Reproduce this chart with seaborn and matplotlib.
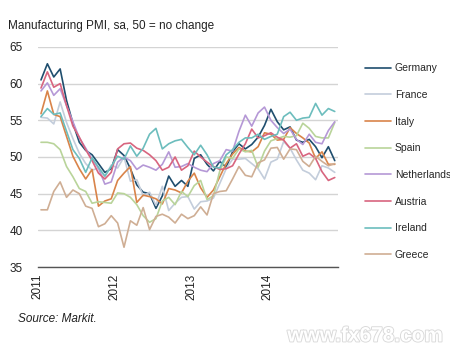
import numpy as np
import pandas as pd
import matplotlib
matplotlib.use("Agg")
import matplotlib.pyplot as plt
import matplotlib.patheffects as pe
import seaborn as sns

# Monthly manufacturing PMI, Jan 2011 - Nov 2014
countries = ["Germany", "France", "Italy", "Spain", "Netherlands", "Austria", "Ireland", "Greece"]

germany = [60.5, 62.7, 60.9, 62.0, 57.7, 54.6, 52.0, 50.9, 50.3, 49.1, 47.9, 48.4,
           51.0, 50.2, 48.4, 46.2, 45.2, 45.0, 43.0, 44.7, 47.4, 46.0, 46.8, 46.0,
           49.8, 50.3, 49.0, 48.1, 49.4, 48.6, 50.7, 51.8, 51.1, 51.7, 52.7, 54.3,
           56.5, 54.8, 53.7, 54.1, 52.3, 52.0, 52.4, 51.4, 49.9, 51.4, 49.5]
france = [55.4, 55.3, 54.5, 57.5, 54.7, 52.5, 50.5, 49.1, 48.2, 48.5, 47.3, 48.9,
          48.5, 50.0, 46.7, 46.9, 44.7, 45.2, 43.4, 46.0, 42.7, 43.7, 44.5, 44.6,
          42.9, 43.9, 44.0, 44.4, 46.4, 48.4, 49.7, 49.7, 49.8, 49.1, 48.4, 47.0,
          49.3, 49.7, 52.1, 51.2, 49.6, 48.2, 47.8, 46.9, 48.8, 48.5, 47.9]
italy = [55.9, 59.0, 55.8, 55.5, 52.8, 50.1, 48.4, 47.0, 48.3, 43.3, 44.0, 44.3,
         46.8, 47.8, 48.7, 43.8, 44.8, 44.6, 44.3, 43.6, 45.7, 45.5, 45.1, 46.7,
         47.8, 45.8, 44.5, 45.5, 47.3, 49.1, 50.4, 51.3, 50.8, 50.7, 51.4, 53.3,
         53.1, 52.3, 52.4, 54.0, 53.2, 52.6, 51.9, 49.8, 50.7, 49.0, 49.0]
spain = [52.0, 52.0, 51.8, 51.0, 48.7, 47.3, 45.7, 45.3, 43.7, 43.9, 43.8, 43.7,
         45.1, 45.0, 44.5, 43.5, 42.0, 41.1, 41.6, 44.0, 44.5, 43.5, 45.3, 44.6,
         46.1, 46.8, 44.2, 44.7, 48.1, 50.0, 49.8, 51.1, 50.7, 50.9, 48.6, 50.8,
         52.2, 52.5, 52.8, 52.7, 52.9, 54.6, 53.9, 52.8, 52.6, 52.6, 54.7]
netherlands = [59.0, 60.1, 58.4, 59.3, 57.0, 54.8, 52.6, 51.2, 49.7, 48.5, 46.3, 46.6,
               49.3, 50.0, 49.5, 48.3, 48.9, 48.6, 48.2, 49.0, 50.7, 48.6, 48.7, 49.1,
               48.6, 48.2, 48.0, 49.1, 49.5, 51.0, 50.8, 53.5, 55.7, 54.2, 56.0, 56.8,
               55.0, 54.0, 53.2, 53.8, 52.4, 51.7, 53.1, 52.0, 51.8, 53.6, 54.8]
austria = [59.4, 61.6, 59.5, 60.0, 57.0, 54.2, 52.7, 51.0, 49.5, 47.8, 47.0, 47.9,
           51.1, 51.8, 51.9, 51.2, 50.9, 50.3, 49.5, 48.2, 48.6, 50.0, 48.2, 48.8,
           50.8, 50.0, 49.3, 48.7, 48.3, 48.4, 48.8, 50.4, 51.8, 53.8, 52.6, 52.9,
           53.3, 52.7, 52.3, 51.2, 51.8, 50.1, 50.5, 49.8, 48.0, 46.8, 47.2]
ireland = [55.5, 56.6, 55.8, 56.0, 53.5, 51.0, 49.8, 47.9, 49.9, 48.6, 47.4, 48.7,
           50.1, 49.7, 51.5, 50.1, 51.2, 53.1, 53.9, 51.1, 51.8, 52.2, 52.4, 51.3,
           50.3, 51.6, 50.3, 48.6, 48.5, 50.3, 51.0, 52.0, 52.6, 52.6, 53.1, 52.4,
           52.8, 53.1, 55.5, 56.1, 55.0, 55.3, 55.4, 57.3, 55.7, 56.6, 56.2]
greece = [42.8, 42.8, 45.3, 46.6, 44.5, 45.5, 45.0, 43.3, 43.0, 40.5, 40.9, 42.0,
          41.0, 37.7, 41.3, 40.7, 43.1, 40.1, 41.9, 42.2, 41.8, 41.0, 42.2, 41.6,
          42.0, 43.2, 42.1, 45.0, 45.3, 45.4, 47.0, 48.7, 47.5, 47.3, 49.2, 49.6,
          51.2, 51.3, 49.7, 51.1, 51.0, 49.4, 48.7, 50.1, 49.4, 48.8, 49.1]

series = [germany, france, italy, spain, netherlands, austria, ireland, greece]
colors = ["#1f4e6e", "#c3cddb", "#d9844a", "#b9d49a", "#b598d6", "#d8657f", "#6cbdbd", "#cfae94"]
year_labels = ["2011", "2012", "2013", "2014"]

n_months = len(germany)
months = np.arange(n_months) + 0.5  # each point sits mid-month

df = pd.DataFrame({
    "month": np.tile(months, len(countries)),
    "pmi": np.concatenate(series),
    "country": np.repeat(countries, n_months),
})

sns.set_theme(style="white")
plt.rcParams["font.family"] = ["Liberation Sans", "DejaVu Sans"]

fig = plt.figure(figsize=(4.5, 3.5), dpi=100)
ax = fig.add_axes([0.084, 0.237, 0.667, 0.629])

sns.lineplot(data=df, x="month", y="pmi", hue="country", hue_order=countries,
             palette=dict(zip(countries, colors)), linewidth=1.2, ax=ax)

ax.set_xlim(0, 47)
ax.set_ylim(35, 65)
ax.set_yticks(np.arange(35, 66, 5))
ax.set_xticks([0, 12, 24, 36])
ax.set_xticklabels(year_labels, rotation=90, fontsize=8.5)
ax.set_xlabel("")
ax.set_ylabel("")
ax.tick_params(axis="y", length=0, pad=11, labelsize=8.5, labelcolor="#222222")
ax.tick_params(axis="x", direction="inout", length=6, width=1, color="#444444",
               pad=2, labelcolor="#222222")
ax.yaxis.grid(True, color="#d4d4d4", linewidth=1)
ax.set_axisbelow(True)
for side in ["left", "right", "top"]:
    ax.spines[side].set_visible(False)
ax.spines["bottom"].set_color("#555555")
ax.spines["bottom"].set_linewidth(1)

handles, labels = ax.get_legend_handles_labels()
ax.get_legend().remove()
fig.legend(handles, labels, loc="upper left", bbox_to_anchor=(0.795, 0.84),
           frameon=False, fontsize=7.5, handlelength=2.5, handletextpad=0.35,
           labelspacing=1.6, borderpad=0.2)

fig.text(0.018, 0.925, "Manufacturing PMI, sa, 50 = no change", fontsize=8.5,
         color="#222222", va="center")
fig.text(0.04, 0.09, "Source: Markit.", fontsize=8.5, style="italic",
         color="#222222", va="center")
fig.text(0.985, 0.04, "www.fx678.com", fontsize=15, fontweight="bold",
         color="white", ha="right", va="center",
         path_effects=[pe.withStroke(linewidth=1.3, foreground="#d9d9d9")])

fig.savefig("out.png", dpi=100, facecolor="white")
